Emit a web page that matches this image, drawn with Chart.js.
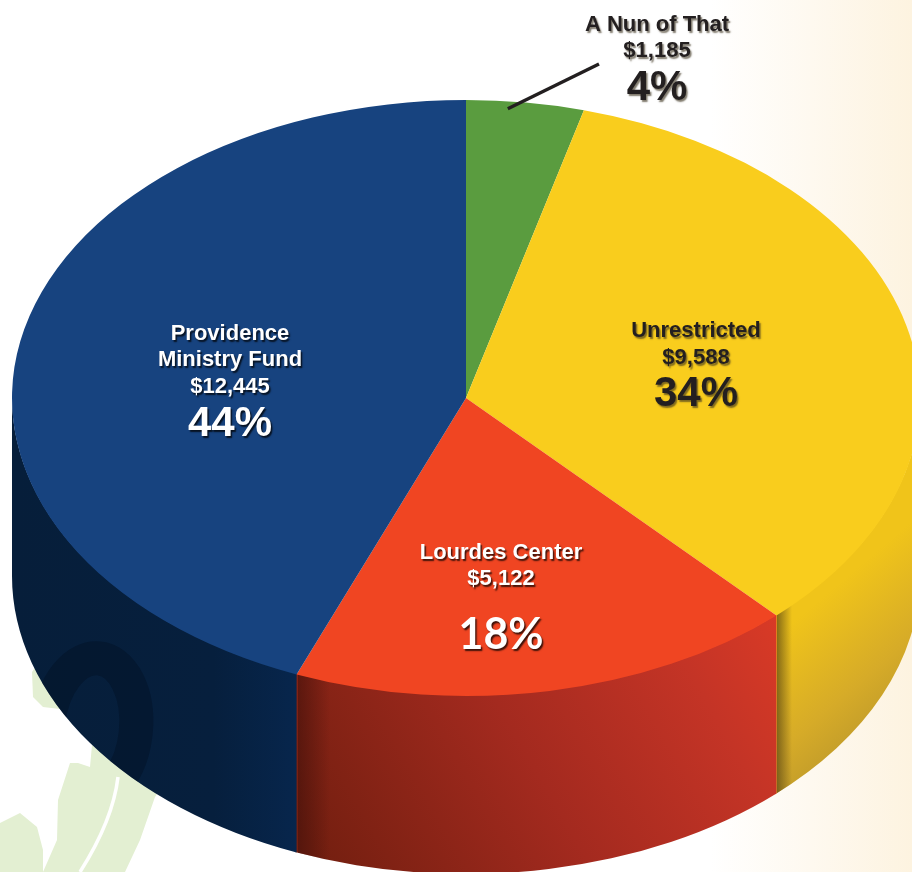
<!DOCTYPE html>
<html><head><meta charset="utf-8">
<style>
html,body{margin:0;padding:0;width:912px;height:872px;overflow:hidden;background:linear-gradient(90deg,#fff 0,#fff 710px,#fdf3e0 912px)}
#w{position:absolute;left:0;top:0;width:912px;height:872px}
</style>
<script src="https://cdn.jsdelivr.net/npm/chart.js@4"></script>
</head><body><div id="w"><canvas id="c" width="912" height="872"></canvas></div>
<script>
const categories = ["A Nun of That","Unrestricted","Lourdes Center","Providence Ministry Fund"];
const amounts = [1185,9588,5122,12445];
const amountLabels = ["$1,185","$9,588","$5,122","$12,445"];
const percentLabels = ["4%","34%","18%","44%"];
const faceColors = ["#5a9c3f","#f9cd1d","#f04522","#17437f"];

const CX=466, CY=398, RX=454, RY=298, DEPTH=178;

function wallPaint(ctx,i){
  let g;
  if(i===3){
    g=ctx.createLinearGradient(12,0,300,0);
    g.addColorStop(0,"#061e3a");g.addColorStop(.7,"#061f3d");g.addColorStop(1,"#07264d");
  } else if(i===2){
    g=ctx.createLinearGradient(330,880,780,620);
    g.addColorStop(0,"#741f10");g.addColorStop(.45,"#a42a1f");g.addColorStop(.8,"#c43426");g.addColorStop(1,"#d93a26");
  } else {
    g=ctx.createLinearGradient(790,625,905,760);
    g.addColorStop(0,"#f0c41a");g.addColorStop(.5,"#d6ab28");g.addColorStop(1,"#b08f2c");
  }
  return g;
}
const depthPlugin={id:"depth",
  beforeDatasetsDraw(chart){
    const ctx=chart.ctx, arcs=chart.getDatasetMeta(0).data;
    ctx.save();
    arcs.forEach((el,i)=>{
      const a=Math.max(el.startAngle,0), b=Math.min(el.endAngle+.004,Math.PI);
      if(b<=a) return;
      ctx.beginPath();
      ctx.ellipse(CX,CY-1,RX,RY,0,a,b);
      ctx.ellipse(CX,CY+DEPTH,RX,RY,0,b,a,true);
      ctx.closePath();
      ctx.fillStyle=wallPaint(ctx,i);
      ctx.fill();
      ctx.save();ctx.clip();
      if(i===3){ // dark watermark seen through the wall
        ctx.strokeStyle="rgba(3,16,32,.4)";ctx.lineWidth=34;
        ctx.beginPath();ctx.ellipse(92,728,44,70,.1,0,Math.PI*2);ctx.stroke();
      }
      if(i===1){ // shaded seam
        const s=ctx.createLinearGradient(777,0,792,0);
        s.addColorStop(0,"rgba(90,70,20,.7)");s.addColorStop(1,"rgba(90,70,20,0)");
        ctx.fillStyle=s;ctx.fillRect(777,600,15,200);
      }
      if(i===2){
        const s=ctx.createLinearGradient(298,0,330,0);
        s.addColorStop(0,"rgba(60,15,10,.55)");s.addColorStop(1,"rgba(60,15,10,0)");
        ctx.fillStyle=s;ctx.fillRect(298,660,32,210);
      }
      ctx.restore();
    });
    // flatten the circular pie into the tilted top face
    const el=arcs[0], R=el.outerRadius;
    ctx.restore();
    ctx.save();
    ctx.translate(CX,CY);ctx.scale(RX/R,RY/R);ctx.translate(-el.x,-el.y);
  },
  afterDatasetsDraw(chart){ chart.ctx.restore(); }
};
const leafPlugin={id:"leaf",
  beforeDatasetsDraw(chart){
    const ctx=chart.ctx; ctx.save(); ctx.fillStyle="#e3efd2";
    const poly=p=>{ctx.beginPath();p.forEach((q,i)=>i?ctx.lineTo(q[0],q[1]):ctx.moveTo(q[0],q[1]));ctx.closePath();ctx.fill();};
    poly([[32,672],[33,697],[43,707],[60,709],[70,700],[40,660]]);
    poly([[70,763],[78,763],[90,767],[92,745],[160,790],[155,797],[140,840],[125,872],[43,872],[57,840],[58,800]]);
    poly([[0,823],[20,813],[37,827],[43,850],[43,872],[8,872],[0,872]]);
    ctx.strokeStyle="#fff";ctx.lineWidth=3.5;ctx.beginPath();ctx.moveTo(118,777);ctx.quadraticCurveTo(113,820,80,872);ctx.stroke();
    ctx.restore();
  }
};
const textBlocks=[
  {i:0,x:657,dark:true,lines:[["A Nun of That",31],["$1,185",57]],pct:100},
  {i:1,x:696,dark:true,lines:[["Unrestricted",337],["$9,588",364]],pct:406},
  {i:2,x:501,dark:false,lines:[["Lourdes Center",559],["$5,122",585]],pct:649,pctFont:'bold 43px Lato'},
  {i:3,x:230,dark:false,lines:[["Providence",340],["Ministry Fund",366],["$12,445",393]],pct:436}
];
const labelPlugin={id:"labels",
  afterDraw(chart){
    const ctx=chart.ctx, green=chart.getDatasetMeta(0).data[0];
    ctx.save();
    const t=green.startAngle+.36*(green.endAngle-green.startAngle);
    ctx.strokeStyle="#231f20";ctx.lineWidth=3.5;
    ctx.beginPath();ctx.moveTo(CX+RX*.975*Math.cos(t),CY+RY*.975*Math.sin(t));ctx.lineTo(599,64);ctx.stroke();
    ctx.textAlign="center";ctx.textBaseline="alphabetic";
    textBlocks.forEach(b=>{
      ctx.shadowOffsetX=1.5;ctx.shadowOffsetY=1.5;ctx.shadowBlur=1.5;
      ctx.shadowColor=b.dark?"rgba(60,50,30,.65)":"rgba(0,0,0,.75)";
      ctx.fillStyle=b.dark?"#231f20":"#ffffff";
      ctx.font='bold 22px "Liberation Sans"';
      b.lines.forEach(l=>ctx.fillText(l[0],b.x,l[1]));
      ctx.font=b.pctFont||'bold 42px "Liberation Sans"';
      ctx.fillText(percentLabels[b.i],b.x,b.pct);
    });
    ctx.restore();
  }
};
new Chart(document.getElementById("c"),{
  type:"pie",
  data:{labels:categories,datasets:[{data:amounts,backgroundColor:faceColors,borderWidth:0,hoverOffset:0}]},
  options:{responsive:false,animation:false,layout:{padding:0},
    plugins:{legend:{display:false},tooltip:{enabled:false}}},
  plugins:[leafPlugin,depthPlugin,labelPlugin]
});
</script></body></html>
